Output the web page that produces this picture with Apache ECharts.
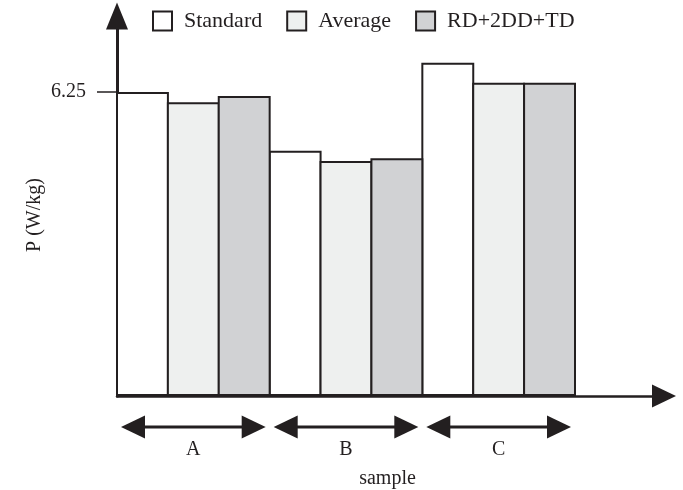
<!DOCTYPE html>
<html>
<head>
<meta charset="utf-8">
<script src="https://cdn.jsdelivr.net/npm/echarts@6/dist/echarts.min.js"></script>
<style>html,body{margin:0;padding:0;background:#fff}#c{width:683px;height:490px}</style>
</head>
<body>
<div id="c"></div>
<script>
var categories = ['A', 'B', 'C'];
var standardValues = [6.25, 5.04, 6.85];
var averageValues = [6.04, 4.83, 6.44];
var rdValues = [6.17, 4.89, 6.44];
var yTickValues = [6.25];
var yMax = 7.8125;

var FONT = "'Liberation Serif', 'Times New Roman', serif";
var INK = '#231f20';

var chart = echarts.init(document.getElementById('c'));

function barSeries(name, data, color) {
  return {
    name: name, type: 'bar', xAxisIndex: 0, yAxisIndex: 0,
    data: data, barGap: '-3.85%', barCategoryGap: -2,
    itemStyle: { color: color, borderColor: INK, borderWidth: 2 },
    emphasis: { disabled: true }
  };
}

chart.setOption({
  animation: false,
  backgroundColor: '#fff',
  textStyle: { fontFamily: FONT, color: INK },
  legend: {
    data: ['Standard', 'Average', 'RD+2DD+TD'],
    left: 152, top: 10, padding: 0,
    itemWidth: 19, itemHeight: 19, itemGap: 24,
    icon: 'rect',
    selectedMode: false,
    textStyle: { fontFamily: FONT, fontSize: 22, color: INK, padding: [0, 0, 0, 7] }
  },
  grid: [
    { left: 117, right: 108, top: 16, bottom: 94, outerBoundsMode: 'none' },
    { left: 117, right: 19, top: 16, bottom: 94, outerBoundsMode: 'none' }
  ],
  xAxis: [
    {
      type: 'category', gridIndex: 0, data: categories,
      axisLine: { show: false }, axisTick: { show: false },
      axisLabel: { margin: 44, fontSize: 20, fontFamily: FONT, color: INK }
    },
    {
      type: 'value', gridIndex: 1, min: 0, max: 1,
      axisLine: { show: true, lineStyle: { color: INK, width: 2.5 }, symbol: ['none', 'triangle'], symbolSize: [23, 24] },
      axisTick: { show: false }, axisLabel: { show: false }, splitLine: { show: false },
      name: 'sample', nameLocation: 'middle', nameGap: 73,
      nameTextStyle: { fontSize: 20, fontFamily: FONT, color: INK, padding: [0, 6, 0, 0] }
    }
  ],
  yAxis: [
    {
      type: 'value', gridIndex: 0, min: 0, max: yMax,
      axisLine: { show: true, lineStyle: { color: INK, width: 3 }, symbol: ['none', 'triangle'], symbolSize: [22, 27] },
      axisTick: { show: true, length: 20, lineStyle: { color: INK, width: 1.5 }, customValues: yTickValues },
      axisLabel: { margin: 31, fontSize: 20, fontFamily: FONT, color: INK, customValues: yTickValues },
      splitLine: { show: false },
      name: 'P (W/kg)', nameLocation: 'middle', nameGap: 72, nameMoveOverlap: false,
      nameTextStyle: { fontSize: 20, fontFamily: FONT, color: INK, padding: [0, 18, 0, 0] }
    },
    { type: 'value', gridIndex: 1, min: 0, max: yMax, show: false }
  ],
  series: [
    barSeries('Standard', standardValues, '#ffffff'),
    barSeries('Average', averageValues, '#eef0ef'),
    barSeries('RD+2DD+TD', rdValues, '#d1d2d4'),
    {
      type: 'custom', xAxisIndex: 0, yAxisIndex: 0, clip: false, silent: true,
      data: categories.map(function (c, i) { return [i]; }),
      renderItem: function (params, api) {
        var p = api.coord([api.value(0), 0]);
        var bw = api.size([1, 0])[0];
        var half = bw / 2 - 4;
        var cx = p[0], cy = p[1] + 31;
        var hl = 24, hh = 11.5;
        return {
          type: 'group',
          children: [
            { type: 'line', shape: { x1: cx - half + hl - 1, y1: cy, x2: cx + half - hl + 1, y2: cy }, style: { stroke: INK, lineWidth: 3 } },
            { type: 'polygon', shape: { points: [[cx - half, cy], [cx - half + hl, cy - hh], [cx - half + hl, cy + hh]] }, style: { fill: INK } },
            { type: 'polygon', shape: { points: [[cx + half, cy], [cx + half - hl, cy - hh], [cx + half - hl, cy + hh]] }, style: { fill: INK } }
          ]
        };
      }
    }
  ]
});
</script>
</body>
</html>
